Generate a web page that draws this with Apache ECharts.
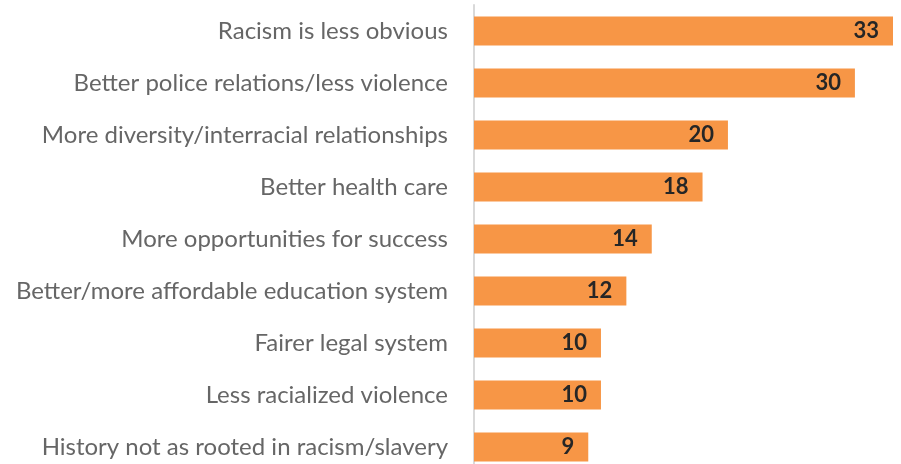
<!DOCTYPE html>
<html>
<head>
<meta charset="utf-8">
<script src="https://cdn.jsdelivr.net/npm/echarts@6/dist/echarts.min.js"></script>
<style>
html,body{margin:0;padding:0;background:#fff}
#main{width:901px;height:464px}
</style>
</head>
<body>
<div id="main"></div>
<script>
// categories top to bottom
var categories = [
  'Racism is less obvious',
  'Better police relations/less violence',
  'More diversity/interracial relationships',
  'Better health care',
  'More opportunities for success',
  'Better/more affordable education system',
  'Fairer legal system',
  'Less racialized violence',
  'History not as rooted in racism/slavery'
]
var values = [33, 30, 20, 18, 14, 12, 10, 10, 9]

var chart = echarts.init(document.getElementById('main'))
var option = {
  animation: false,
  grid: { left: 474, top: 5, width: 419, height: 468, outerBoundsMode: 'none' },
  xAxis: {
    type: 'value',
    min: 0,
    max: 33,
    show: false
  },
  yAxis: {
    type: 'category',
    inverse: true,
    data: categories,
    axisLine: { show: true, lineStyle: { color: '#d9d9d9', width: 2 } },
    axisTick: { show: false },
    axisLabel: {
      color: '#666666',
      fontFamily: 'Lato',
      fontSize: 24,
      margin: 26
    }
  },
  series: [{
    type: 'bar',
    data: values,
    barWidth: 29,
    itemStyle: { color: '#f79646' },
    label: {
      show: true,
      position: 'insideRight',
      distance: 14,
      color: '#262626',
      fontFamily: 'Lato',
      fontWeight: 'bold',
      fontSize: 22
    }
  }]
}
chart.setOption(option)
</script>
</body>
</html>
